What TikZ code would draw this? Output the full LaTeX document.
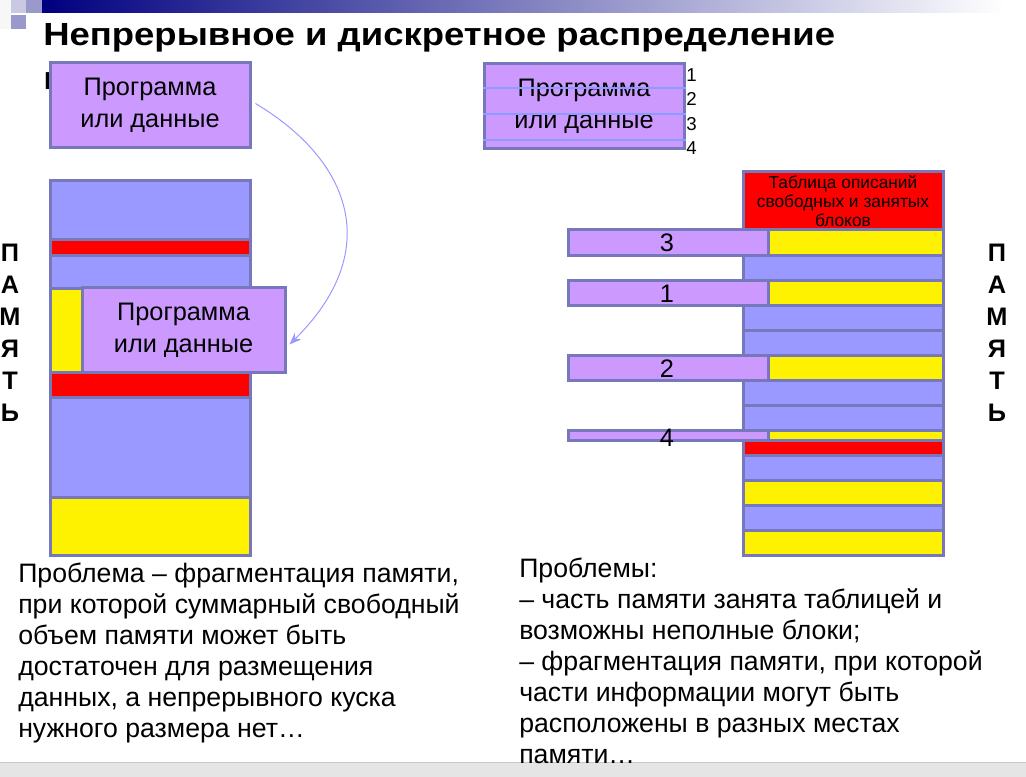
\documentclass[tikz,border=0pt]{standalone}
\usepackage{fontspec}
\setmainfont{Liberation Sans}
\newfontfamily\titlefont[FakeStretch=1.14]{Liberation Sans}
\usetikzlibrary{arrows.meta,calc}

\definecolor{edgecol}{RGB}{119,119,187}
\definecolor{memfill}{RGB}{153,153,255}
\definecolor{progfill}{RGB}{204,153,255}
\definecolor{splitcol}{RGB}{140,155,255}
\definecolor{navybar}{RGB}{0,0,128}

\begin{document}
\begin{tikzpicture}[x=0.75pt,y=0.75pt,yscale=-1,
  cell/.style={draw=edgecol,line width=2.25pt},
  prog/.style={cell,fill=progfill,inner sep=0pt,align=center,
    font=\fontsize{19}{24}\selectfont},
  title/.style={inner sep=0pt,font=\titlefont\fontsize{24}{30}\selectfont\bfseries},
  body/.style={inner sep=0pt,align=left,font=\fontsize{20}{23.25}\selectfont},
  num/.style={inner sep=0pt,font=\fontsize{19}{24}\selectfont},
  tick/.style={inner sep=0pt,font=\fontsize{14}{16}\selectfont},
  vert/.style={inner sep=0pt,align=center,font=\fontsize{19}{24}\selectfont\bfseries},
  link/.style={draw=memfill,line width=0.75pt,-{Stealth[length=9pt,width=7pt,inset=3pt]}}]
\useasboundingbox (0,0) rectangle (1026,777);

% header decoration
\fill[gray!6] (0,0) rectangle (11,29);
\fill[edgecol!40] (11,0) rectangle (26,13);
\fill[edgecol!75] (26,0) rectangle (42,13);
\fill[edgecol!75] (11,15) rectangle (26,29);
\shade[left color=navybar,right color=white] (42,0) rectangle (1005,13);

% Title
\node[title,anchor=base west] (title) at (43,46) {Непрерывное и дискретное распределение};
\node[title,anchor=base west] (title2) at (43,90) {памяти};

% left memory
\foreach \ya/\yb/\c in {181/240/memfill,240/256/red,256/289/memfill,373/398/red,398/498/memfill,498/556/yellow}
  \draw[cell,fill=\c] (50,\ya) rectangle (250,\yb);
\draw[cell,fill=yellow] (50,289) rectangle (82,373);

\node[prog,minimum width=150pt,minimum height=63.75pt] (progtop) at (150,105.5) {Программа\\или данные};
\node[prog,minimum width=152.25pt,minimum height=63.75pt] (progmem) at (183.5,330.5) {Программа\\или данные};

\draw[link] ($(progtop.east)+(4,-2)$) .. controls (350,160) and (385,250) .. ($(progmem.east)+(3,14)$);

% right memory
\node[cell,fill=red,inner sep=0pt,minimum width=150pt,minimum height=43.5pt,align=center,
  font=\fontsize{13}{14}\selectfont] (tbl) at (843,201) {Таблица описаний\\свободных и занятых\\блоков};
\foreach \ya/\yb/\c in {230/256/yellow,256/281/memfill,281/306/yellow,306/331/memfill,331/356/memfill,
    356/381/yellow,381/406/memfill,406/431/memfill,431/441/yellow,441/456/red,456/481/memfill,
    481/506/yellow,506/531/memfill,531/556/yellow}
  \draw[cell,fill=\c] (743,\ya) rectangle (943,\yb);
\foreach \ya/\yb in {230/256,281/306,356/381,431/441}
  \draw[cell,fill=progfill] (568,\ya) rectangle (768,\yb);
\foreach \y/\n in {243/3,294/1,369/2,438/4}
  \node[num] (part\n) at (667,\y) {\n};

\node[prog,minimum width=150pt,minimum height=63.75pt] (progright) at (584,106.5) {Программа\\или данные};
\foreach \y in {88,114,140}
  \draw[splitcol,line width=1.5pt] (progright.west |- 0,\y) -- (progright.east |- 0,\y);
\foreach \y/\n in {75/1,99/2,124/3,148/4}
  \node[tick,anchor=west] (cut\n) at (686,\y) {\n};

% ПАМЯТЬ labels
\node[vert] (memL) at (10,333) {П\\А\\М\\Я\\Т\\Ь};
\node[vert] (memR) at (997,333) {П\\А\\М\\Я\\Т\\Ь};

% footer
\fill[gray!20] (0,762) rectangle (1026,777);
\draw[gray!45,line width=0.75pt] (0,762) -- (1026,762);

% Text Node
\node[body,anchor=north west] (probL) at (18,563) {Проблема – фрагментация памяти,\\при которой суммарный свободный\\объем памяти может быть\\достаточен для размещения\\данных, а непрерывного куска\\нужного размера нет…};
% Text Node
\node[body,anchor=north west] (probR) at (519,558) {Проблемы:\\– часть памяти занята таблицей и\\возможны неполные блоки;\\– фрагментация памяти, при которой\\части информации могут быть\\расположены в разных местах\\памяти…};
\end{tikzpicture}
\end{document}
